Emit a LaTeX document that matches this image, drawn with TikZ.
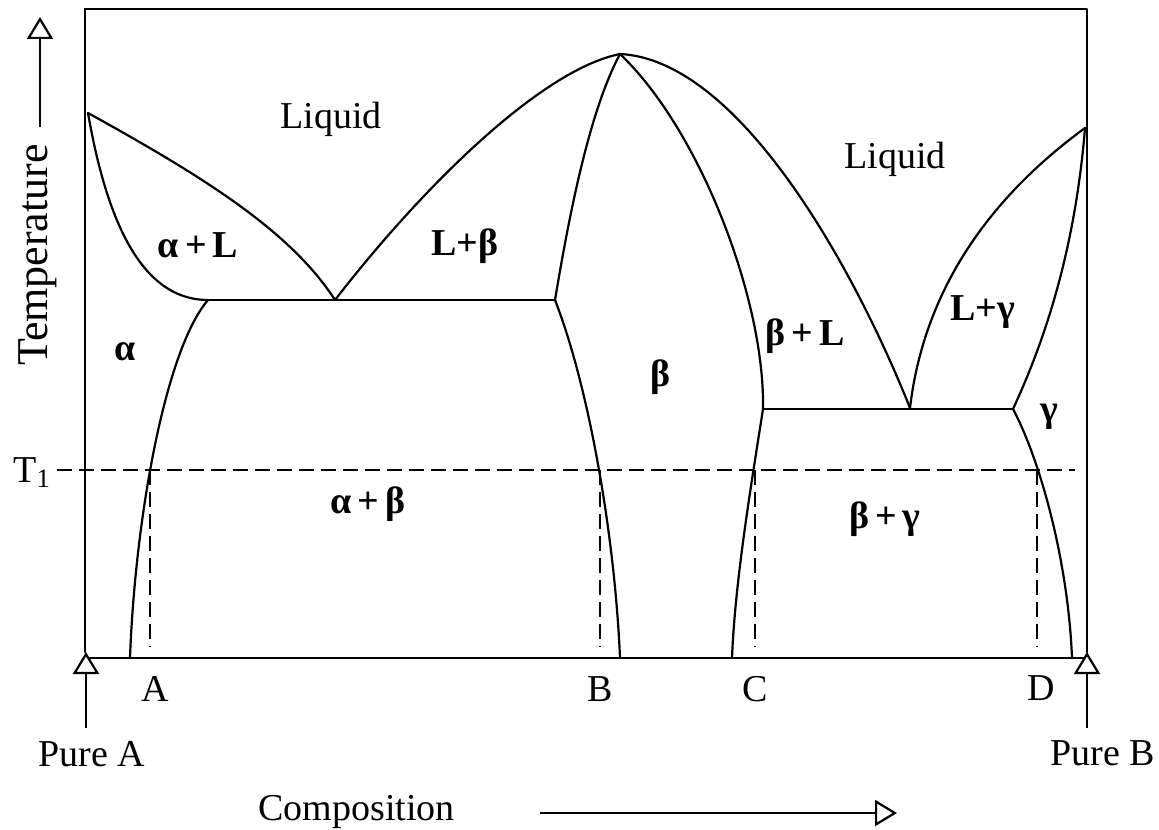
\documentclass[tikz,border=0pt]{standalone}
\usepackage{fontspec}
\setmainfont{Liberation Serif}
\usetikzlibrary{arrows.meta}
\begin{document}
\begin{tikzpicture}[x=0.5pt,y=-0.5pt,
  curve/.style={line width=1.1pt, line join=round, line cap=round},
  dashline/.style={line width=0.9pt, dash pattern=on 7.5pt off 3.5pt},
  openarrow/.style={line width=1.1pt, -{Triangle[length=11pt,width=13pt,fill=white]}},
  lbl/.style={font=\fontsize{19}{22}\selectfont, inner sep=0pt, anchor=base},
  phase/.style={font=\fontsize{19}{22}\selectfont\bfseries, inner sep=0pt, anchor=base},
]
\useasboundingbox (0,0) rectangle (1159,829);

% key points
\coordinate (mA) at (88,113);
\coordinate (mB) at (1085,128);
\coordinate (e1) at (335,300);
\coordinate (s1) at (208,300);
\coordinate (s2) at (555,300);
\coordinate (top) at (620,54);
\coordinate (e2) at (910,408);
\coordinate (s3) at (763,409);
\coordinate (s4) at (1013,409);

% frame
\draw[curve] (85,9) -- (1087,9) -- (1087,652);
\draw[curve] (85,9) -- (85,652);
\draw[curve] (85,658) -- (1087,658);

% T1 dashed
\draw[dashline] (57,470) -- (1075,470);
\draw[dashline] (150,470) -- (150,647);
\draw[dashline] (600,470) -- (600,647);
\draw[dashline] (755,470) -- (755,647);
\draw[dashline] (1037,470) -- (1037,647);

% left lens
\draw[curve] (mA) .. controls (200,175) and (290,230) .. (e1);
\draw[curve] (mA) .. controls (110,240) and (150,300) .. (s1);
% left solvus
\draw[curve] (s1) .. controls (165,350) and (135,520) .. (130,658);
% eutectic 1
\draw[curve] (s1) -- (s2);
% liquidus to compound max
\draw[curve] (e1) .. controls (420,190) and (540,70) .. (top);
% beta left boundary
\draw[curve] (s2) .. controls (570,210) and (590,110) .. (top);
% beta left solvus
\draw[curve] (s2) .. controls (590,390) and (615,540) .. (620,658);
% beta right solidus
\draw[curve] (top) .. controls (700,130) and (765,300) .. (s3);
% beta right solvus
\draw[curve] (s3) .. controls (752,480) and (735,580) .. (732,658);
% right liquidus
\draw[curve] (top) .. controls (740,60) and (855,270) .. (e2);
% eutectic 2
\draw[curve] (s3) -- (s4);
% gamma lens
\draw[curve] (e2) .. controls (925,280) and (1000,190) .. (mB);
\draw[curve] (mB) .. controls (1075,250) and (1045,340) .. (s4);
% gamma solvus
\draw[curve] (s4) .. controls (1040,460) and (1068,560) .. (1072,658);

% axis arrows
\coordinate (ta0) at (40,127); \coordinate (ta1) at (40,17);
\draw[openarrow] (ta0) -- (ta1);
\coordinate (pa0) at (86,728); \coordinate (pa1) at (86,652);
\draw[openarrow] (pa0) -- (pa1);
\coordinate (pb0) at (1087,728); \coordinate (pb1) at (1087,652);
\draw[openarrow] (pb0) -- (pb1);
\coordinate (ca0) at (540,813); \coordinate (ca1) at (897,813);
\draw[openarrow] (ca0) -- (ca1);

% texts
\node[lbl, font=\fontsize{22}{24}\selectfont, rotate=90, anchor=center] (temp) at (38,255) {Temperature};
\node[lbl, anchor=base west] (comp) at (258,820) {Composition};
\node[lbl] (pureA) at (92,766) {Pure A};
\node[lbl] (pureB) at (1103,765) {Pure B};
\node[lbl] (lA) at (155,701) {A};
\node[lbl] (lB) at (600,701) {B};
\node[lbl] (lC) at (755,701) {C};
\node[lbl] (lD) at (1041,700) {D};
\node[lbl, anchor=base west] (t1) at (13,482) {T\textsubscript{1}};
\node[lbl] (liq1) at (331,128) {Liquid};
\node[lbl] (liq2) at (895,168) {Liquid};

\node[phase] (aL) at (198,257) {α\hspace{3pt}+\hspace{3pt}L};
\node[phase] (Lb) at (465,255) {L+β};
\node[phase] (a) at (125,360) {α};
\node[phase] (b) at (660,386) {β};
\node[phase] (bL) at (805,345) {β\hspace{3pt}+\hspace{3pt}L};
\node[phase] (Lg) at (983,320) {L+γ};
\node[phase] (g) at (1049,421) {γ};
\node[phase] (ab) at (368,513) {α\hspace{3pt}+\hspace{3pt}β};
\node[phase] (bg) at (885,528) {β\hspace{3pt}+\hspace{3pt}γ};
\end{tikzpicture}
\end{document}
